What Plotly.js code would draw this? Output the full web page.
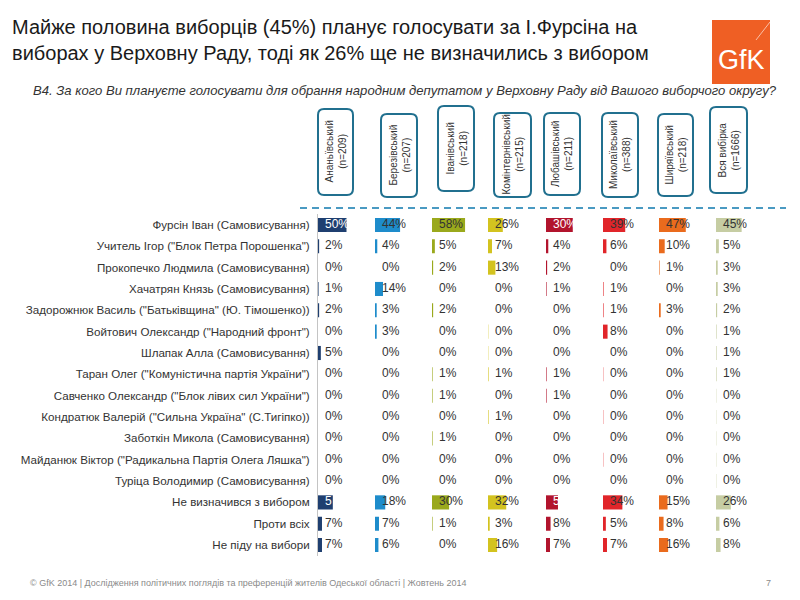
<!DOCTYPE html>
<html>
<head>
<meta charset="utf-8">
<script src="https://cdn.plot.ly/plotly-3.0.1.min.js"></script>
<style>html,body{margin:0;padding:0;background:#fff;}#chart{width:800px;height:600px;}</style>
</head>
<body>
<div id="chart"></div>
<script>
// ---------------- DATA ----------------
const rows = [
  'Фурсін Іван (Самовисування)',
  'Учитель Ігор ("Блок Петра Порошенка")',
  'Прокопечко Людмила (Самовисування)',
  'Хачатрян Князь (Самовисування)',
  'Задорожнюк Василь ("Батьківщина" (Ю. Тімошенко))',
  'Войтович Олександр ("Народний фронт")',
  'Шлапак Алла (Самовисування)',
  'Таран Олег ("Комуністична партія України")',
  'Савченко Олександр ("Блок лівих сил України")',
  'Кондратюк Валерій ("Сильна Україна" (С.Тигіпко))',
  'Заботкін Микола (Самовисування)',
  'Майданюк Віктор ("Радикальна Партія Олега Ляшка")',
  'Туріца Володимир (Самовисування)',
  'Не визначився з вибором',
  'Проти всіх',
  'Не піду на вибори'
];
const districts = ['Ананьївський','Березівський','Іванівський','Комінтернівський','Любашівський','Миколаївський','Ширяївський','Вся вибірка'];
const sampleSizes = ['(n=209)','(n=207)','(n=218)','(n=215)','(n=211)','(n=388)','(n=218)','(n=1666)'];

// bar lengths as drawn (percent)
const ananivBars      = [50,2,0,1,2,0,5,0,0,0,0,0,0,26,7,7];
const berezivBars     = [44,4,0,14,3,3,0,0,0,0,0,0,0,18,7,6];
const ivanivBars      = [58,5,2,0,2,0,0,1,1,0,1,0,0,30,1,0];
const komintenivBars  = [26,7,13,0,0,0.5,0.5,1,0,1,0,0,0,32,3,16];
const liubashivBars   = [47,4,2,1,0,0,0,1,1,0,0,0,0,21,8,7];
const mykolaivBars    = [39,6,0,1,1,8,0,0.5,0,0.5,0,0.5,0,34,5,7];
const shyriaivBars    = [47,10,1,0,3,0,0,0,0,0,0,0,0,15,8,16];
const totalBars       = [45,5,3,3,2,1,1,1,0.5,0.5,0.5,0.5,0.5,26,6,8];

// printed labels
const ananivLabels     = ['50%','2%','0%','1%','2%','0%','5%','0%','0%','0%','0%','0%','0%','5','7%','7%'];
const berezivLabels    = ['44%','4%','0%','14%','3%','3%','0%','0%','0%','0%','0%','0%','0%','18%','7%','6%'];
const ivanivLabels     = ['58%','5%','2%','0%','2%','0%','0%','1%','1%','0%','1%','0%','0%','30%','1%','0%'];
const komintenivLabels = ['26%','7%','13%','0%','0%','0%','0%','1%','0%','1%','0%','0%','0%','32%','3%','16%'];
const liubashivLabels  = ['30%','4%','2%','1%','0%','0%','0%','1%','1%','0%','0%','0%','0%','5','8%','7%'];
const mykolaivLabels   = ['39%','6%','0%','1%','1%','8%','0%','0%','0%','0%','0%','0%','0%','34%','5%','7%'];
const shyriaivLabels   = ['47%','10%','1%','0%','3%','0%','0%','0%','0%','0%','0%','0%','0%','15%','8%','16%'];
const totalLabels      = ['45%','5%','3%','3%','2%','1%','1%','1%','0%','0%','0%','0%','0%','26%','6%','8%'];

// ---------------- STYLE ----------------
const barSets = [ananivBars,berezivBars,ivanivBars,komintenivBars,liubashivBars,mykolaivBars,shyriaivBars,totalBars];
const labelSets = [ananivLabels,berezivLabels,ivanivLabels,komintenivLabels,liubashivLabels,mykolaivLabels,shyriaivLabels,totalLabels];
const colors = ['#1f3f70','#1e8ccb','#9aa91c','#d3c31f','#b2142d','#e1252a','#ea6b1d','#c6cda3'];
const darkCols = [true,false,false,false,true,false,false,false];
const colBase = [318,375,432,488,546,603,659,716]; // px
const pxPerUnit = 0.57;
const axisSpan = 100;
const labelOffsetPx = 7;
const W = 800, H = 600;
const SANS = '"Liberation Sans", Arial, sans-serif';
const px = v => v / W;
const py = v => 1 - v / H;

const rowTop = 214.3, rowBottom = 555.7;
const idx = rows.map((_, i) => i);

const layout = {
  width: W, height: H,
  margin: {l:0, r:0, t:0, b:0},
  paper_bgcolor: '#ffffff', plot_bgcolor: 'rgba(0,0,0,0)',
  showlegend: false,
  font: {family: SANS, color: '#333'},
  yaxis: {
    domain: [py(rowBottom), py(rowTop)],
    range: [rows.length - 0.5, -0.5],
    tickmode: 'array', tickvals: idx, ticktext: rows,
    tickfont: {family: SANS, size: 11.6, color: '#333'},
    ticks: '', ticklabelstandoff: 5,
    showline: true, linecolor: '#c4c4c4', linewidth: 1,
    showgrid: false, zeroline: false, anchor: 'x', fixedrange: true
  },
  shapes: [], annotations: []
};

// title
layout.annotations.push({
  xref:'paper', yref:'paper', x: px(10), y: py(14), xanchor:'left', yanchor:'top', align:'left', showarrow:false,
  text: 'Майже половина виборців (45%) планує голосувати за І.Фурсіна на<br>виборах у Верховну Раду, тоді як 26% ще не визначились з вибором',
  font: {family: SANS, size: 20, color: '#1a1a1a'}
});

const data = [];
barSets.forEach((vals, c) => {
  const ax = c === 0 ? '' : String(c + 1);
  layout['xaxis' + ax] = {
    domain: [px(colBase[c]), px(colBase[c] + axisSpan * pxPerUnit)],
    range: [0, axisSpan], visible: false, fixedrange: true, anchor: 'y'
  };
  data.push({
    type: 'bar', orientation: 'h', x: vals, y: idx, width: 0.66,
    marker: {color: colors[c], line: {width: 0}},
    xaxis: 'x' + ax, yaxis: 'y', hoverinfo: 'skip'
  });
  data.push({
    type: 'scatter', mode: 'text',
    x: vals.map(() => labelOffsetPx / pxPerUnit), y: idx,
    text: labelSets[c], textposition: 'middle right',
    textfont: {family: SANS, size: 12, color: vals.map(v => (darkCols[c] && v >= 15) ? '#ffffff' : '#333333')},
    xaxis: 'x' + ax, yaxis: 'y', hoverinfo: 'skip', cliponaxis: false
  });
});

// header boxes
const boxes = [[318,353,109,195],[381,417,114,197],[438,474,106,191],[494,531,113,197],[544,580,113,195],[602,638,113,197],[658,693,114,196],[710,747,107,193]];
boxes.forEach((b, c) => {
  const [x0,x1,y0,y1] = b, r = 6;
  const P = (x,y) => px(x).toFixed(5) + ',' + py(y).toFixed(5);
  const path = 'M' + P(x0+r,y0) + ' L' + P(x1-r,y0) + ' Q' + P(x1,y0) + ' ' + P(x1,y0+r) +
    ' L' + P(x1,y1-r) + ' Q' + P(x1,y1) + ' ' + P(x1-r,y1) + ' L' + P(x0+r,y1) +
    ' Q' + P(x0,y1) + ' ' + P(x0,y1-r) + ' L' + P(x0,y0+r) + ' Q' + P(x0,y0) + ' ' + P(x0+r,y0) + ' Z';
  layout.shapes.push({type:'path', xref:'paper', yref:'paper', path, line:{color:'#21708f', width:2}, fillcolor:'rgba(0,0,0,0)'});
  layout.annotations.push({
    xref:'paper', yref:'paper', x: px((x0+x1)/2), y: py((y0+y1)/2), xanchor:'center', yanchor:'middle',
    text: districts[c] + '<br>' + sampleSizes[c], textangle: -90, showarrow: false,
    font: {family: SANS, size: 10, color: '#333'}, align: 'center'
  });
});

// dashed separator
layout.shapes.push({type:'line', xref:'paper', yref:'paper', x0: px(300), x1: px(786), y0: py(208), y1: py(208),
  line:{color:'#4a9ac2', width:2, dash:'7px,5px'}});

// logo
layout.shapes.push({type:'rect', xref:'paper', yref:'paper', x0: px(712), x1: px(770), y0: py(20), y1: py(84),
  fillcolor:'#ef5f24', line:{width:0}, layer:'below'});
layout.shapes.push({type:'line', xref:'paper', yref:'paper', x0: px(756), x1: px(770), y0: py(40), y1: py(22),
  line:{color:'rgba(255,255,255,0.6)', width:1}, layer:'below'});
layout.annotations.push({xref:'paper', yref:'paper', x: px(741), y: py(60), xanchor:'center', yanchor:'middle',
  text:'GfK', showarrow:false, font:{family: SANS, size: 27, color:'#ffffff'}});

// subtitle
layout.annotations.push({xref:'paper', yref:'paper', x: px(779), y: py(91), xanchor:'right', yanchor:'middle', showarrow:false,
  text: '<i>В4. За кого Ви плануєте голосувати для обрання народним депутатом у Верховну Раду від Вашого виборчого округу?</i>',
  font:{family: SANS, size: 13.1, color:'#333'}});

// footer
layout.annotations.push({xref:'paper', yref:'paper', x: px(28), y: py(583), xanchor:'left', yanchor:'middle', showarrow:false,
  text: '© GfK 2014 | Дослідження політичних поглядів та преференцій жителів Одеської області | Жовтень 2014',
  font:{family: SANS, size: 9, color:'#8a8a8a'}});
layout.annotations.push({xref:'paper', yref:'paper', x: px(768), y: py(583), xanchor:'center', yanchor:'middle', showarrow:false, text: '7',
  font:{family: SANS, size: 9, color:'#8a8a8a'}});

Plotly.newPlot('chart', data, layout, {staticPlot: true, displayModeBar: false});
</script>
</body>
</html>
